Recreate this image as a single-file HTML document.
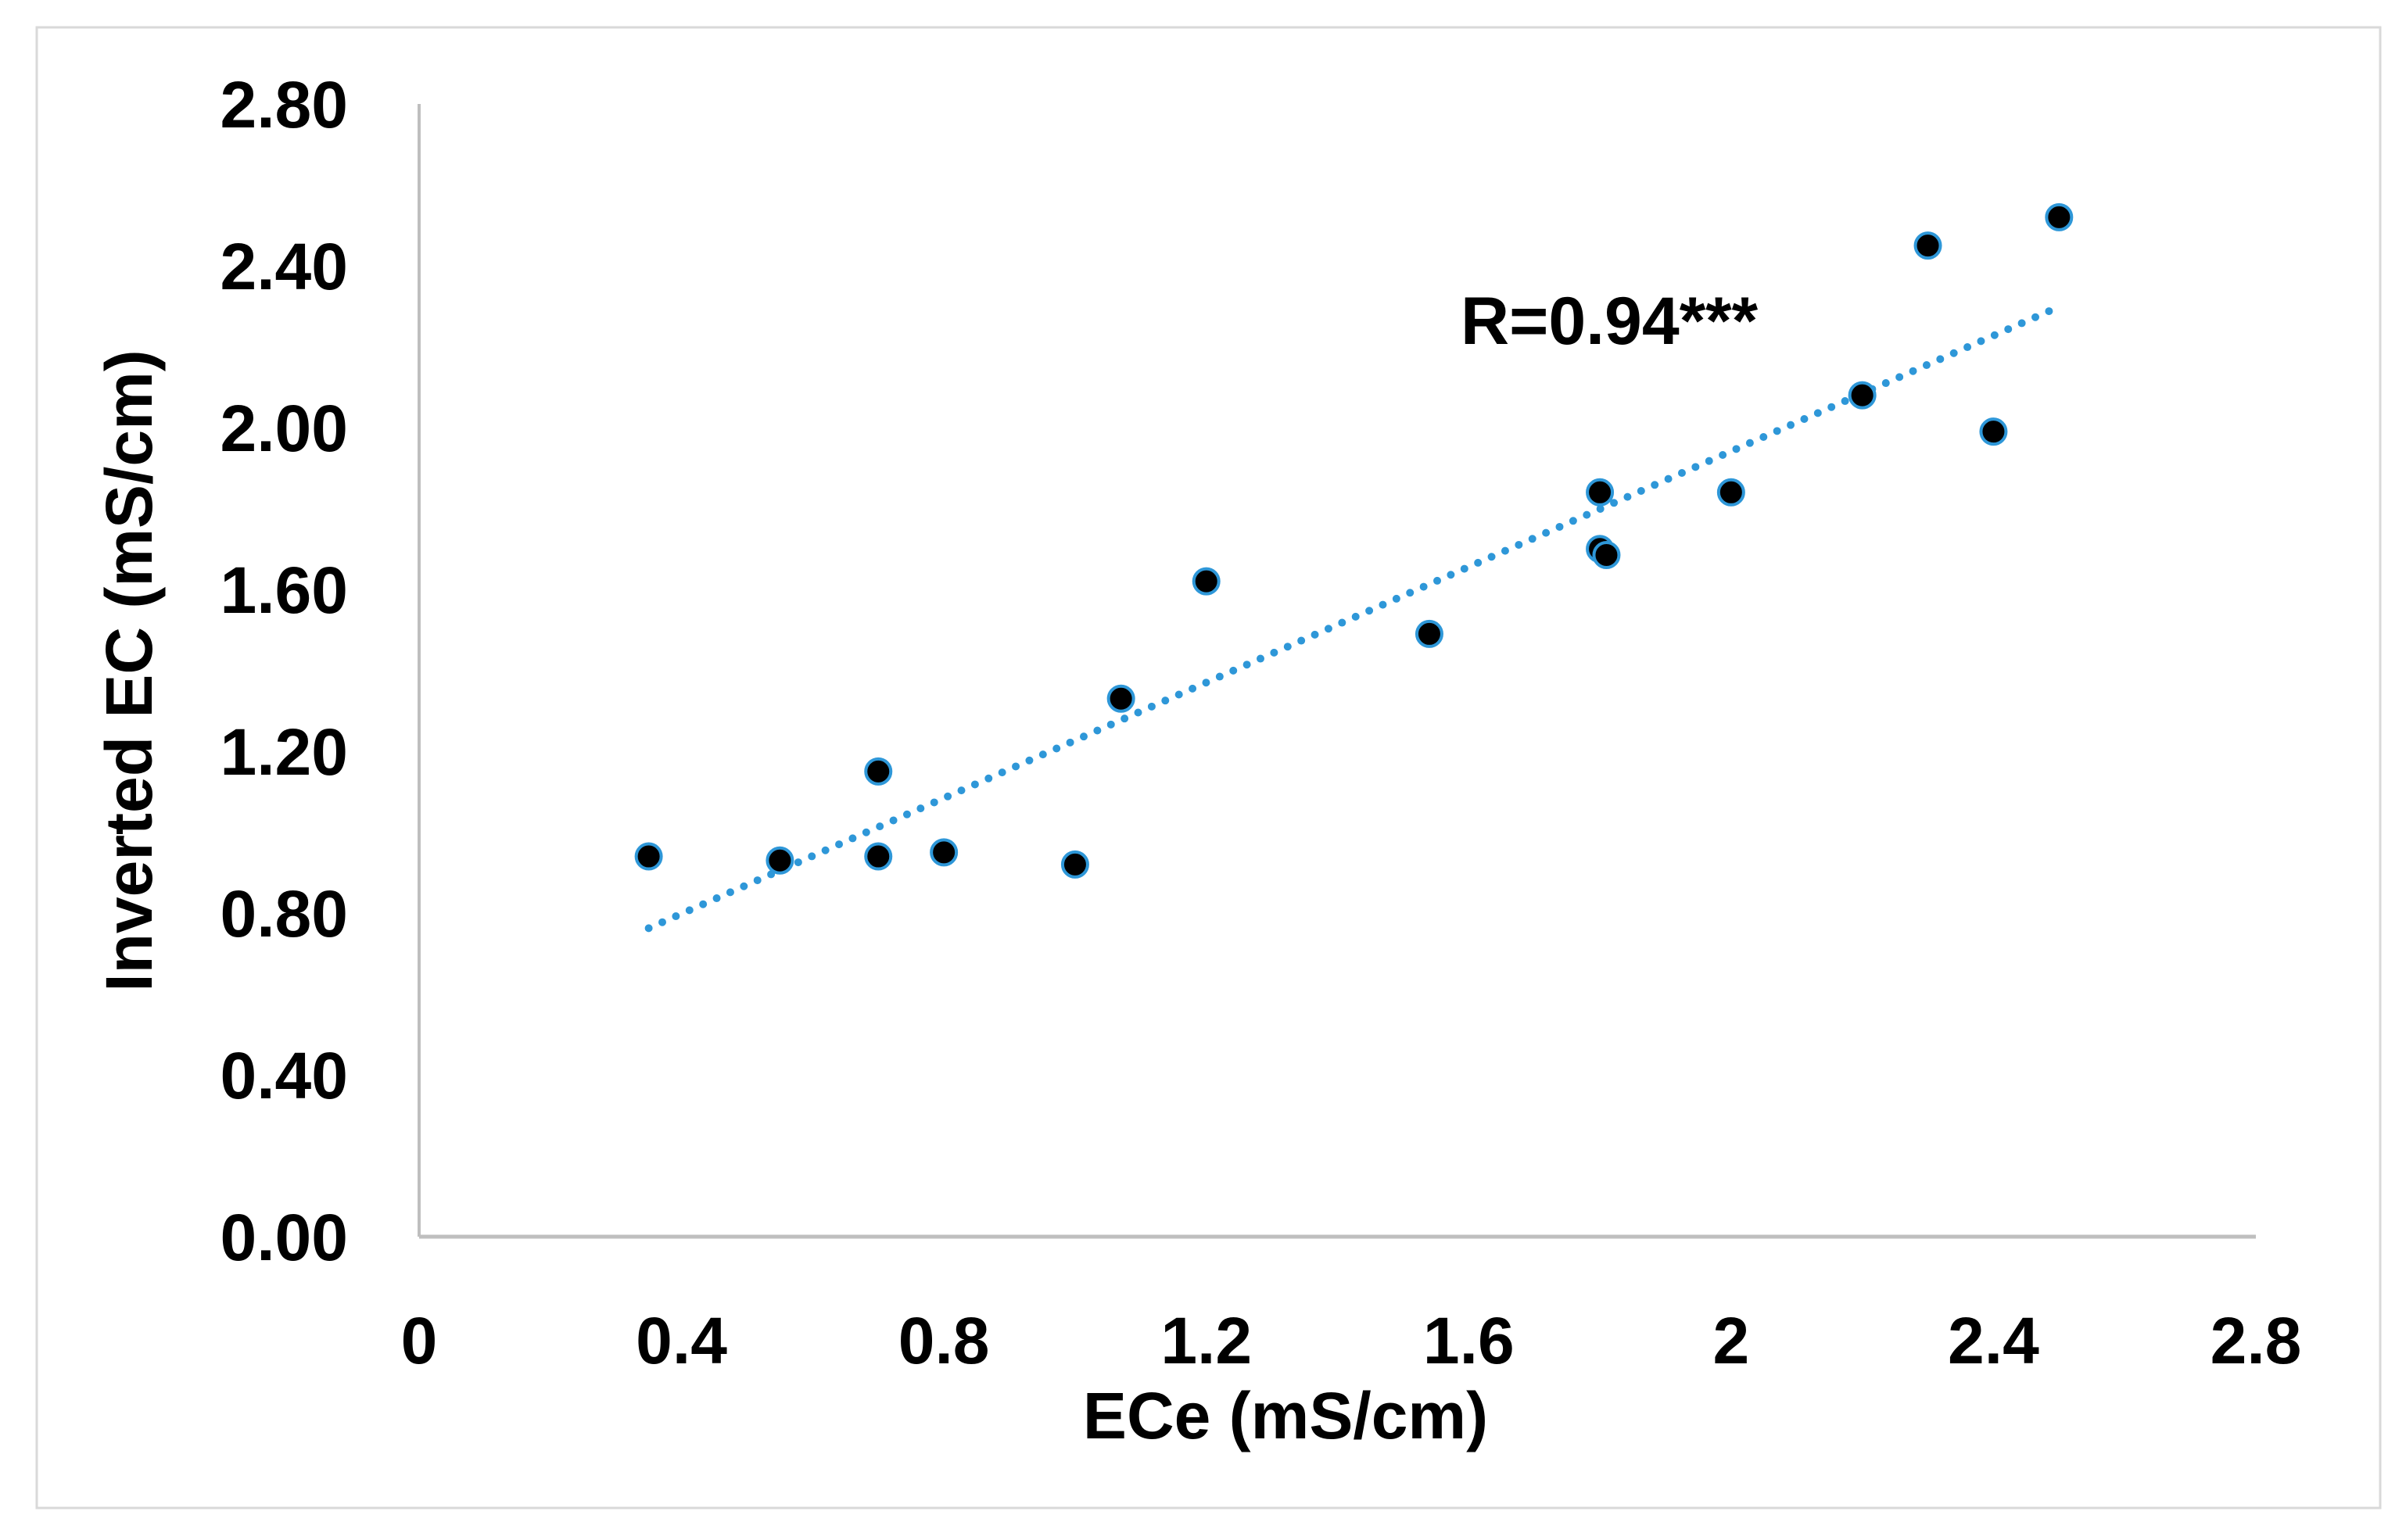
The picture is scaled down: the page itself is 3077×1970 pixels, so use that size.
<!DOCTYPE html>
<html><head><meta charset="utf-8"><style>
html,body{margin:0;padding:0;background:#fff;}
svg{display:block;}
text{font-family:"Liberation Sans",sans-serif;font-weight:bold;fill:#000;}
</style></head><body>
<svg id="chart" width="3077" height="1970" viewBox="0 0 3077 1970">
<rect x="47" y="35" width="2997" height="1894" fill="#fff" stroke="#d9d9d9" stroke-width="3"/>
<g id="axes"></g>
<g id="trend"></g>
<g id="points"></g>
<text x="1868" y="440" font-size="86">R=0.94***</text>
<text x="1644" y="1840" font-size="84" text-anchor="middle">ECe (mS/cm)</text>
<text transform="translate(194,858) rotate(-90)" font-size="84" text-anchor="middle">Inverted EC (mS/cm)</text>
</svg>
<script>
const xTicks=[0,0.4,0.8,1.2,1.6,2,2.4,2.8];
const xTickLabels=["0","0.4","0.8","1.2","1.6","2","2.4","2.8"];
const yTicks=[0,0.4,0.8,1.2,1.6,2.0,2.4,2.8];
const yTickLabels=["0.00","0.40","0.80","1.20","1.60","2.00","2.40","2.80"];
const eceValues=[0.35,0.55,0.70,0.70,0.80,1.00,1.07,1.20,1.54,1.80,1.80,1.81,2.00,2.20,2.30,2.40,2.50];
const invertedValues=[0.94,0.93,1.15,0.94,0.95,0.92,1.33,1.62,1.49,1.84,1.70,1.685,1.84,2.08,2.45,1.99,2.52];
const trendX=[0.35,2.49];

const X0=536,X1=2885,Y0=1582,Y1=133;
function sx(v){return X0+(v-0)/(2.8-0)*(X1-X0);}
function sy(v){return Y0-(v-0)/(2.8-0)*(Y0-Y1);}
const NS="http://www.w3.org/2000/svg";
function mk(tag,attrs,parent){const e=document.createElementNS(NS,tag);for(const k in attrs)e.setAttribute(k,attrs[k]);parent.appendChild(e);return e;}
const axes=document.getElementById('axes');
let e=mk('line',{x1:X0,y1:Y1,x2:X0,y2:Y0,stroke:'#bfbfbf','stroke-width':4},axes);


e=mk('line',{x1:X0,y1:Y0,x2:X1,y2:Y0,stroke:'#bfbfbf','stroke-width':5},axes);


xTicks.forEach((t,i)=>{
  const tx=mk('text',{x:sx(t),y:1744,'font-size':84,'text-anchor':'middle'},axes);
  tx.textContent=xTickLabels[i];
  
  
});
yTicks.forEach((t,i)=>{
  const tx=mk('text',{x:445,y:sy(t)+30,'font-size':84,'text-anchor':'end'},axes);
  tx.textContent=yTickLabels[i];
  
  
});
const n=eceValues.length;
let mx=0,my=0;for(let i=0;i<n;i++){mx+=eceValues[i];my+=invertedValues[i];}mx/=n;my/=n;
let sxy=0,sxx=0;for(let i=0;i<n;i++){sxy+=(eceValues[i]-mx)*(invertedValues[i]-my);sxx+=(eceValues[i]-mx)**2;}
const slope=sxy/sxx,icpt=my-slope*mx;
const tl=mk('line',{x1:sx(trendX[0]),y1:sy(icpt+slope*trendX[0]),x2:sx(trendX[1]),y2:sy(icpt+slope*trendX[1]),stroke:'#2e97d8','stroke-width':10,'stroke-linecap':'round','stroke-dasharray':'0 19'},document.getElementById('trend'));


const pts=document.getElementById('points');
for(let i=0;i<n;i++){
  const c=mk('circle',{cx:sx(eceValues[i]),cy:sy(invertedValues[i]),r:16,fill:'#000',stroke:'#2e97d8','stroke-width':4},pts);
  
  
}
</script>
</body></html>
